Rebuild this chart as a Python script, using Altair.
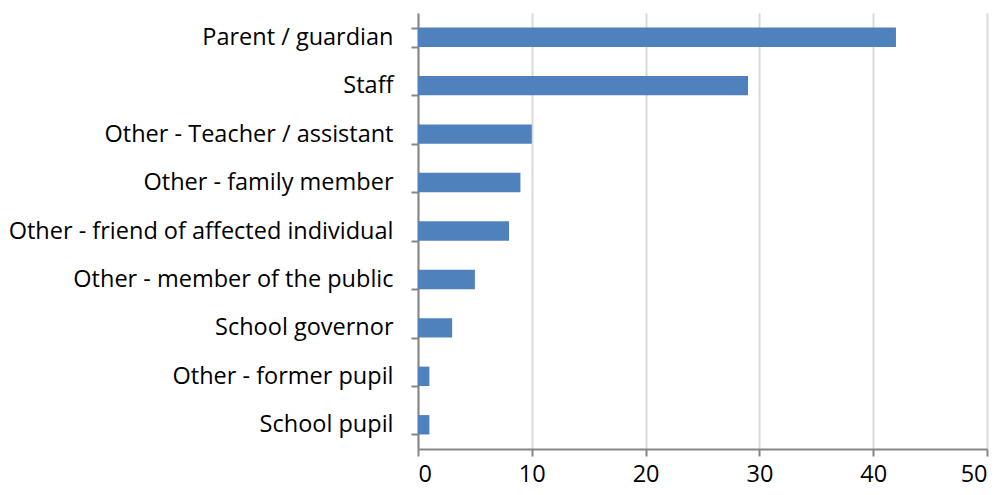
import altair as alt
import pandas as pd

categories = [
    "Parent / guardian",
    "Staff",
    "Other - Teacher / assistant",
    "Other - family member",
    "Other - friend of affected individual",
    "Other - member of the public",
    "School governor",
    "Other - former pupil",
    "School pupil",
]
values = [42, 29, 10, 9, 8, 5, 3, 1, 1]

df = pd.DataFrame({"category": categories, "value": values})

FONT = "Open Sans"
FS = 23.5

chart = alt.Chart(df).mark_bar(color="#4F81BD").encode(
    y=alt.Y(
        "category:N",
        sort=categories,
        title=None,
        scale=alt.Scale(paddingInner=0.6, paddingOuter=0.3),
        axis=alt.Axis(
            labelFont=FONT,
            labelFontSize=FS,
            labelColor="#000000",
            labelPadding=18,
            domainColor="#868686",
            domainWidth=2,
            tickColor="#868686",
            tickWidth=2,
            tickSize=7,
            tickBand="extent",
            grid=False,
            labelLimit=440,
        ),
    ),
    x=alt.X(
        "value:Q",
        title=None,
        scale=alt.Scale(domain=[0, 50], nice=False),
        axis=alt.Axis(
            values=[0, 10, 20, 30, 40, 50],
            labelFont=FONT,
            labelFontSize=FS,
            labelColor="#000000",
            labelPadding=6,
            domainColor="#868686",
            domainWidth=2,
            tickColor="#868686",
            tickWidth=2,
            tickSize=7,
            grid=True,
            gridColor="#d9d9d9",
            gridWidth=2,
        ),
    ),
).properties(
    width=569,
    height=436,
    autosize=alt.AutoSizeParams(type="none"),
    padding={"left": 410, "top": 5, "right": 5, "bottom": 40},
).configure_view(stroke=None)

chart.save("out.html", embed_options={"renderer": "svg", "actions": False})
